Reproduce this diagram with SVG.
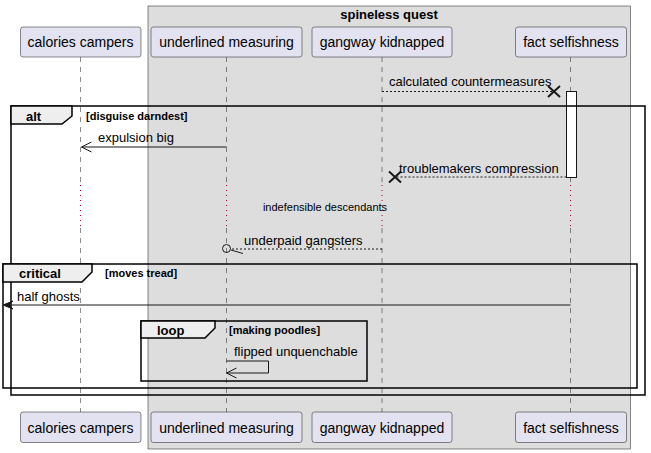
<svg xmlns="http://www.w3.org/2000/svg" width="651" height="453" viewBox="0 0 651 453">
<style>
text{font-family:"Liberation Sans",Arial,sans-serif;fill:#000}
.p rect{fill:#E2E2F0;stroke:#181818;stroke-width:0.5}
.p text{font-size:14px;text-anchor:middle}
.life{stroke:#181818;stroke-width:0.5;stroke-dasharray:5,5;fill:none}
.delay{stroke:#A80036;stroke-width:1;stroke-dasharray:1,4;fill:none}
.msg{font-size:13px}
.solid{stroke:#181818;stroke-width:1;fill:none}
.dash{stroke:#181818;stroke-width:1;fill:none;stroke-dasharray:2,2}
.xh{stroke:#181818;stroke-width:2;fill:none}
.frame{fill:none;stroke:#000;stroke-width:1.5}
.tab{fill:#EEEEEE;stroke:#000;stroke-width:1.5}
.fk{font-size:13px;font-weight:bold}
.fc{font-size:11px;font-weight:bold}
</style>
<g id="box-spineless-quest">
<rect x="148" y="6" width="482.5" height="443" fill="#DDDDDD" stroke="#181818" stroke-width="0.5"/>
<text x="389" y="19" font-size="13" font-weight="bold" text-anchor="middle">spineless quest</text>
</g>
<g id="lifelines">
<path class="life" d="M80.5,57V183M80.5,228V412M226.5,57V183M226.5,228V412M382,57V183M382,228V412M570.5,57V183M570.5,228V412"/>
<path class="delay" d="M80.5,185V226M226.5,185V226M382,185V226M570.5,185V226"/>
</g>
<g id="participant-calories-campers" class="p">
<rect x="20.5" y="27" width="120.5" height="30" rx="2.5"/>
<text x="80.5" y="47">calories campers</text>
<rect x="20.5" y="412" width="120.5" height="30.5" rx="2.5"/>
<text x="80.5" y="432.5">calories campers</text>
</g>
<g id="participant-underlined-measuring" class="p">
<rect x="151" y="27" width="151" height="30" rx="2.5"/>
<text x="226.5" y="47">underlined measuring</text>
<rect x="151" y="412" width="151" height="30.5" rx="2.5"/>
<text x="226.5" y="432.5">underlined measuring</text>
</g>
<g id="participant-gangway-kidnapped" class="p">
<rect x="312" y="27" width="140" height="30" rx="2.5"/>
<text x="382" y="47">gangway kidnapped</text>
<rect x="312" y="412" width="140" height="30.5" rx="2.5"/>
<text x="382" y="432.5">gangway kidnapped</text>
</g>
<g id="participant-fact-selfishness" class="p">
<rect x="515.5" y="27" width="111" height="30" rx="2.5"/>
<text x="571" y="47">fact selfishness</text>
<rect x="515.5" y="412" width="111" height="30.5" rx="2.5"/>
<text x="571" y="432.5">fact selfishness</text>
</g>
<g id="activation-fact-selfishness">
<rect x="566.5" y="91.5" width="10" height="86" fill="#FFFFFF" stroke="#181818" stroke-width="1"/>
</g>
<g id="frame-alt">
<rect class="frame" x="11" y="106" width="634" height="289"/>
<path class="tab" d="M11,106H72V116L62,124H11Z"/>
<text class="fk" x="26" y="121">alt</text>
<text class="fc" x="86" y="120">[disguise darndest]</text>
</g>
<g id="frame-critical">
<rect class="frame" x="3" y="264" width="634" height="124"/>
<path class="tab" d="M3,264H92V272L82,282H3Z"/>
<text class="fk" x="19" y="278">critical</text>
<text class="fc" x="105" y="277">[moves tread]</text>
</g>
<g id="frame-loop">
<rect class="frame" x="141" y="321" width="226" height="60"/>
<path class="tab" d="M141,321H215V328L205,338H141Z"/>
<text class="fk" x="157" y="335">loop</text>
<text class="fc" x="229" y="334">[making poodles]</text>
</g>
<g id="connectors">
<path class="dash" d="M382,91.5H552"/>
<path class="xh" d="M548,86L560,97M548,97L560,86"/>
<text class="msg" x="389" y="86">calculated countermeasures</text>
<path class="solid" d="M226.5,147H81.5"/>
<path class="solid" d="M91.5,142L81.5,147L91.5,152"/>
<text class="msg" x="98" y="142">expulsion big</text>
<path class="dash" d="M566.5,177H397"/>
<path class="xh" d="M389,171.5L401,182.5M389,182.5L401,171.5"/>
<text class="msg" x="399" y="173">troublemakers compression</text>
<text x="325" y="211" font-size="11" text-anchor="middle">indefensible descendants</text>
<path class="dash" d="M382,249H231"/>
<circle cx="226.5" cy="248.5" r="4" fill="none" stroke="#181818" stroke-width="1"/>
<path class="solid" d="M231,250L243,253.5"/>
<text class="msg" x="244" y="245">underpaid gangsters</text>
<path class="solid" d="M570.5,305H8"/>
<path d="M3,305L13,301L9,305L13,309Z" fill="#181818" stroke="#181818" stroke-width="1"/>
<text class="msg" x="17" y="300.5">half ghosts</text>
<path class="solid" d="M226.5,361H268.5V373H226.5"/>
<path class="solid" d="M236.5,368L226.5,373L236.5,378"/>
<text class="msg" x="234" y="356">flipped unquenchable</text>
</g>
</svg>
